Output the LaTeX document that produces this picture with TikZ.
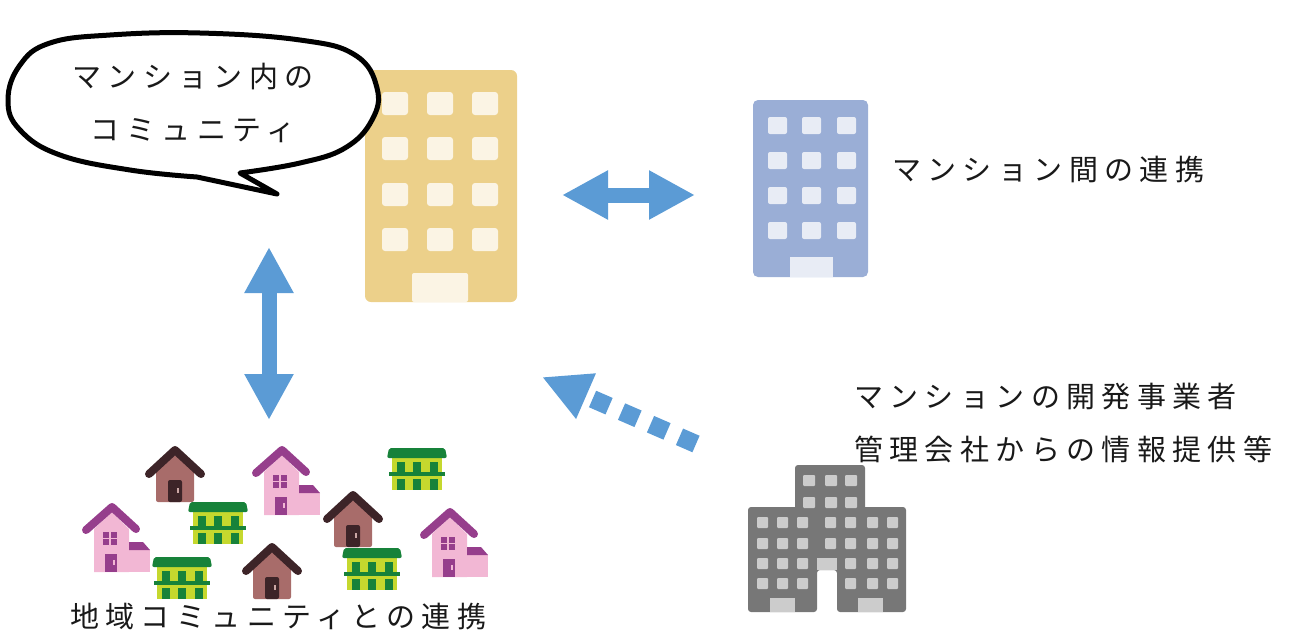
\documentclass[tikz,border=0pt]{standalone}
\usepackage{fontspec}
\newfontfamily\jpfont[LetterSpace=22]{Noto Sans CJK JP}
\usetikzlibrary{arrows.meta}
\definecolor{arrowblue}{RGB}{91,155,213}
\definecolor{mansion}{RGB}{236,208,138}
\definecolor{mansionwin}{RGB}{251,244,228}
\definecolor{other}{RGB}{154,174,214}
\definecolor{otherwin}{RGB}{232,236,245}
\definecolor{office}{RGB}{119,119,119}
\definecolor{officewin}{RGB}{204,204,204}
\definecolor{brownbody}{RGB}{168,108,106}
\definecolor{brownroof}{RGB}{61,36,40}
\definecolor{pinkbody}{RGB}{242,183,212}
\definecolor{pinkroof}{RGB}{150,62,140}
\definecolor{flatroof}{RGB}{23,130,58}
\definecolor{flatbody}{RGB}{197,216,46}
\newcommand{\brownhouse}[2]{%
	\begin{scope}[shift={(#1,#2)}]
		\fill[brownbody,rounded corners=2] (-19,52) -- (-19,20) -- (0,4) -- (19,20) -- (19,52) -- cycle;
		\draw[brownroof,line width=8pt,line cap=round,line join=round] (-26,24) -- (0,0) -- (26,24);
		\fill[brownroof,rounded corners=2] (-7,30) rectangle (7,52);
		\fill[brownbody!60] (2,38) rectangle (4,43);
	\end{scope}}
\newcommand{\pinkhouse}[2]{%
	\begin{scope}[shift={(#1,#2)}]
		\fill[pinkbody] (-18,65) -- (-18,22) -- (0,5) -- (17,22) -- (17,65) -- cycle;
		\fill[pinkbody] (17,43) rectangle (38,65);
		\fill[pinkroof] (17,35) -- (31,35) -- (38,43) -- (17,43) -- cycle;
		\draw[pinkroof,line width=8pt,line cap=round,line join=round] (-26,23) -- (0,0) -- (24,22);
		\foreach \wx in {-9,-1}{%
			\foreach \wy in {25,32}{%
				\fill[pinkroof] (\wx,\wy) rectangle ++(6,6);
			}
		}
		\fill[pinkroof] (-7,47) rectangle (5,65);
		\fill[pinkbody] (1,53) rectangle (3,58);
	\end{scope}}
\newcommand{\greenflat}[2]{%
	\begin{scope}[shift={(#1,#2)}]
		\fill[flatbody] (5,10) rectangle (55,42);
		\fill[flatroof,rounded corners=2] (2,0) -- (58,0) -- (60,10) -- (0,10) -- cycle;
		\fill[flatroof] (2,24) rectangle (58,28);
		\foreach \wx in {10,26,43}{%
			\fill[flatroof] (\wx,14) rectangle ++(8,10);
			\fill[flatroof] (\wx,31) rectangle ++(8,11);
		}
	\end{scope}}

\begin{document}
\begin{tikzpicture}[x=1pt,y=-1pt,
		lbl/.style={font=\jpfont\fontsize{29}{53}\selectfont,text=black!90,inner sep=0pt},
		link/.style={draw=arrowblue,line width=15pt,{Triangle[length=46pt,width=46pt]}-{Triangle[length=46pt,width=46pt]}}]
	\useasboundingbox (0,0) rectangle (1291,632);

	% own mansion
	\fill[mansion,rounded corners=6] (365,70) rectangle (517,302);
	\foreach \cx in {382,427,472}{%
		\foreach \cy in {92,137,183,228}{%
			\fill[mansionwin,rounded corners=3] (\cx,\cy) rectangle ++(26,23);
		}
	}
	\fill[mansionwin,rounded corners=2] (412,273) rectangle (468,302);

	% speech bubble
	\draw[line width=5pt,fill=white,line join=round]
		plot[smooth,tension=0.7] coordinates {(240,173) (300,163) (345,148) (372,120) (377,88) (355,55) (300,40) (200,33) (110,35) (50,43) (20,65) (8,100) (20,130) (60,155) (130,170) (197,177)}
		-- (277,194) -- cycle;
	\node[lbl,align=center] (inner) at (193,103) {マンション内の\\コミュニティ};

	% neighbouring mansion
	\fill[other,rounded corners=5] (753,100) rectangle (868,277);
	\foreach \cx in {768,802,837}{%
		\foreach \cy in {117,152,187,222}{%
			\fill[otherwin,rounded corners=2] (\cx,\cy) rectangle ++(19,17);
		}
	}
	\fill[otherwin] (790,257) rectangle (833,277);
	\node[lbl,anchor=west] (between) at (892,170) {マンション間の連携};

	% developer / management office
	\fill[office,rounded corners=3] (795,465) rectangle (865,512);
	\fill[office,rounded corners=3] (748,507) -- (906,507) -- (906,612) -- (837,612) -- (837,570) -- (817,570) -- (817,612) -- (748,612) -- cycle;
	\foreach \cx in {803,825,845}{%
		\foreach \cy in {475,497}{%
			\fill[officewin,rounded corners=1] (\cx,\cy) rectangle ++(12,11);
		}
	}
	\foreach \cx in {757,777,797,825,845,867,887}{%
		\foreach \cy in {517,538}{%
			\fill[officewin,rounded corners=1] (\cx,\cy) rectangle ++(11,11);
		}
	}
	\foreach \cx in {757,777,797,845,867,887}{%
		\foreach \cy in {558,578}{%
			\fill[officewin,rounded corners=1] (\cx,\cy) rectangle ++(11,11);
		}
	}
	\fill[officewin] (817,558) rectangle (837,570);
	\fill[officewin] (770,598) rectangle (795,612);
	\fill[officewin] (858,598) rectangle (883,612);
	\node[lbl,anchor=west] (dev1) at (854,397) {マンションの開発事業者};
	\node[lbl,anchor=west] (dev2) at (854,449) {管理会社からの情報提供等};

	% local community
	\brownhouse{175}{450}
	\brownhouse{353}{495}
	\brownhouse{272}{547}
	\pinkhouse{112}{507}
	\pinkhouse{282}{450}
	\pinkhouse{450}{512}
	\greenflat{387}{448}
	\greenflat{188}{502}
	\greenflat{152}{557}
	\greenflat{342}{548}
	\node[lbl,anchor=west] (local) at (70,617) {地域コミュニティとの連携};

	% arrows
	\coordinate (hl) at (562,195);
	\coordinate (hr) at (695,195);
	\coordinate (vt) at (269,247);
	\coordinate (vb) at (269,420);
	\coordinate (dev) at (696,444);
	\coordinate (devtip) at (542,377);
	\draw[link] (hl) -- (hr);
	\draw[link] (vt) -- (vb);
	\draw[draw=arrowblue,line width=18pt,dash pattern=on 18pt off 13.6pt,-{Triangle[length=48pt,width=46pt]}] (dev) -- (devtip);
\end{tikzpicture}
\end{document}
